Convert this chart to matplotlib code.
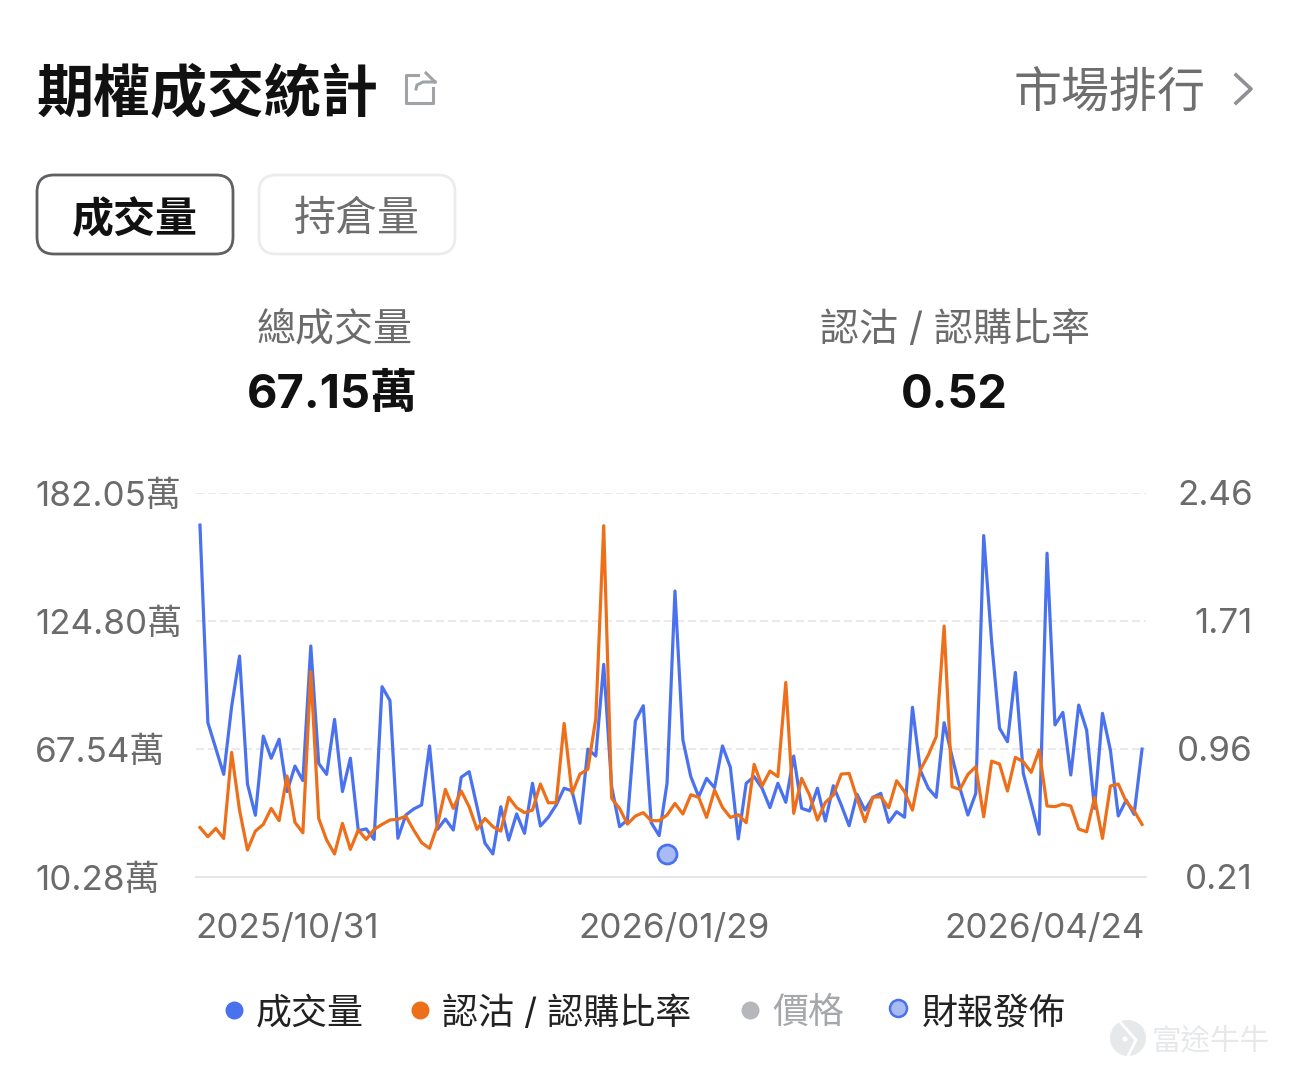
import matplotlib
matplotlib.use("Agg")
import matplotlib.pyplot as plt
from matplotlib.patches import FancyBboxPatch, Circle
from matplotlib.transforms import ScaledTranslation

# Data
volume = [167.7, 79.3, 67.8, 56.2, 86.5, 109.1, 51.9, 37.9, 73.3, 63.4,
          71.9, 48.5, 59.9, 53.4, 113.6, 61.1, 56.2, 80.8, 48.5, 63.4,
          31.0, 31.8, 27.1, 95.4, 89.2, 27.6, 38.0, 40.7, 42.5, 68.9,
          31.6, 36.2, 31.3, 54.9, 57.4, 41.7, 25.4, 20.6, 41.7, 26.8,
          38.5, 29.8, 52.2, 33.1, 37.0, 42.5, 50.0, 48.8, 34.3, 67.5,
          64.4, 105.4, 50.7, 32.8, 35.8, 80.1, 86.9, 34.6, 28.8, 52.2,
          138.2, 71.6, 55.2, 46.2, 54.4, 50.2, 68.9, 59.3, 27.3, 52.2,
          55.2, 50.0, 41.3, 52.2, 43.7, 64.4, 41.0, 39.8, 50.0, 35.3,
          51.1, 42.5, 33.2, 47.3, 40.2, 45.9, 47.7, 34.7, 39.5, 37.0,
          86.2, 57.9, 50.0, 45.9, 79.3, 64.1, 50.0, 38.0, 47.7, 163.0,
          115.6, 76.8, 70.8, 101.8, 56.7, 43.2, 29.4, 155.1, 78.3, 83.9,
          55.9, 87.2, 76.0, 41.0, 83.5, 67.1, 37.6, 44.7, 38.3, 67.5]
ratio = [0.500, 0.446, 0.495, 0.436, 0.940, 0.602, 0.368, 0.479, 0.518, 0.612,
         0.540, 0.802, 0.530, 0.469, 1.413, 0.553, 0.427, 0.345, 0.524, 0.372,
         0.485, 0.430, 0.489, 0.518, 0.544, 0.548, 0.567, 0.485, 0.411, 0.378,
         0.514, 0.723, 0.612, 0.714, 0.622, 0.489, 0.553, 0.505, 0.479, 0.677,
         0.616, 0.587, 0.602, 0.755, 0.645, 0.645, 1.110, 0.700, 0.813, 0.841,
         1.139, 2.268, 0.671, 0.612, 0.520, 0.567, 0.587, 0.540, 0.540, 0.573,
         0.641, 0.579, 0.692, 0.677, 0.559, 0.719, 0.618, 0.559, 0.575, 0.528,
         0.870, 0.743, 0.831, 0.798, 1.350, 0.583, 0.788, 0.690, 0.544, 0.647,
         0.690, 0.813, 0.817, 0.671, 0.534, 0.677, 0.680, 0.616, 0.774, 0.710,
         0.602, 0.837, 0.925, 1.032, 1.680, 0.739, 0.723, 0.811, 0.856, 0.563,
         0.889, 0.872, 0.714, 0.911, 0.885, 0.823, 0.954, 0.626, 0.622, 0.637,
         0.626, 0.491, 0.475, 0.677, 0.436, 0.743, 0.755, 0.651, 0.598, 0.518]
earnings_index = [59]
earnings_volume = [20.6]

left_values = [10.28, 67.54, 124.80, 182.05]
left_labels = ["10.28萬", "67.54萬", "124.80萬", "182.05萬"]
right_values = [0.21, 0.96, 1.71, 2.46]
right_labels = ["0.21", "0.96", "1.71", "2.46"]
date_index = [0, 60, 119]
date_labels = ["2025/10/31", "2026/01/29", "2026/04/24"]

BLUE = "#4a72ee"
ORANGE = "#ee6f1a"
GREY = "#6b6b6b"
plt.rcParams["font.family"] = ["Inter", "Noto Sans CJK TC", "DejaVu Sans"]

W, H = 1290, 1075
PX = 72 / 100  # points per pixel at dpi 100

fig = plt.figure(figsize=(W / 100, H / 100), dpi=100, facecolor="white")

# -----------------------------
# Page layer, pixel coordinates
# -----------------------------
page = fig.add_axes([0, 0, 1, 1])
page.set_xlim(0, W)
page.set_ylim(H, 0)
page.axis("off")


def label(x, y, s, size, color="#111111", ha="left", weight="normal"):
    page.text(x, y, s, fontsize=size * PX, color=color, ha=ha, va="center_baseline",
              fontweight=weight)


label(37, 90, "期權成交統計", 57, weight="bold")
label(1014, 90, "市場排行", 48, color="#6e6e6e")

# share icon
icon = "#a0a3a6"
page.plot([418, 406, 406, 433, 433], [75, 75, 103, 103, 88], color=icon, lw=2.2, solid_joinstyle="round")
page.plot([416, 417, 423, 435], [89, 85, 82, 82], color=icon, lw=2.2)
page.plot([426, 435], [73, 82], color=icon, lw=2.2)
# chevron
page.plot([1236, 1251, 1236], [75, 89, 103], color="#8e9093", lw=2.6)

# tabs
page.add_patch(FancyBboxPatch((37, 175), 196, 79, boxstyle="round,pad=0,rounding_size=17",
                              fc="white", ec="#5f6063", lw=2.0))
page.add_patch(FancyBboxPatch((259, 175), 196, 79, boxstyle="round,pad=0,rounding_size=17",
                              fc="white", ec="#ececee", lw=2.0))
label(135, 216, "成交量", 42, ha="center", weight="bold")
label(357, 216, "持倉量", 42, color="#6e6e6e", ha="center")

# summary numbers
label(335, 326, "總成交量", 39, color=GREY, ha="center")
label(332, 391, "67.15萬", 47, ha="center", weight="bold")
label(955, 326, "認沽 / 認購比率", 39, color=GREY, ha="center")
label(954, 391, "0.52", 47, ha="center", weight="bold")

# legend
page.scatter([234], [1010], s=(18 * PX) ** 2, color=BLUE, linewidths=0)
label(256, 1010, "成交量", 36, color="#222222")
page.scatter([420], [1010], s=(18 * PX) ** 2, color=ORANGE, linewidths=0)
label(442, 1010, "認沽 / 認購比率", 36, color="#222222")
page.scatter([750], [1010], s=(18 * PX) ** 2, color="#b5b7ba", linewidths=0)
label(772, 1010, "價格", 36, color="#a5a7aa")
page.scatter([898], [1008], s=(17 * PX) ** 2, color="#a9bbf3", edgecolors=BLUE, linewidths=1.8)
label(922, 1010, "財報發佈", 36, color="#222222")

# watermark
page.add_patch(Circle((1128, 1038), 18, fc="#e6e8ea", ec="none"))
page.plot([1121, 1136, 1128], [1023, 1040, 1056], color="white", lw=2.0)
page.add_patch(Circle((1125, 1039), 2.5, fc="white", ec="none"))
label(1152, 1039, "富途牛牛", 29.5, color="#e6e8ea")

# -----------------------------
# Chart
# -----------------------------
ax = fig.add_axes([196 / W, 1 - 877 / H, 950 / W, 384 / H])
ax.patch.set_alpha(0)
ax.plot(range(len(volume)), volume, color=BLUE, lw=2.3, solid_joinstyle="round", zorder=3)
ax.scatter(earnings_index, earnings_volume, s=(19 * PX) ** 2, color="#a9bbf3",
           edgecolors=BLUE, linewidths=2.0, zorder=5, clip_on=False)
ax.set_xlim(-0.5, 119.5)
ax.set_ylim(left_values[0], left_values[-1])
ax.set_yticks(left_values)
ax.set_yticklabels(left_labels)
ax.set_xticks(date_index)
ax.set_xticklabels(date_labels)
ax.grid(axis="y", color="#e6e6e8", lw=1.2, dashes=(4.8, 2.4))
ax.set_axisbelow(True)

ax2 = ax.twinx()
ax2.plot(range(len(ratio)), ratio, color=ORANGE, lw=2.3, solid_joinstyle="round", zorder=4)
ax2.set_ylim(right_values[0], right_values[-1])
ax2.set_yticks(right_values)
ax2.set_yticklabels(right_labels)

for a in [ax, ax2]:
    for side in ["top", "left", "right"]:
        a.spines[side].set_visible(False)
    a.spines["bottom"].set_color("#e6e6e8")
    a.spines["bottom"].set_linewidth(1.2)

ax.tick_params(axis="y", length=0, pad=161 * PX, labelsize=35 * PX, labelcolor=GREY)
ax.tick_params(axis="x", length=0, pad=36 * PX, labelsize=35 * PX, labelcolor=GREY)
ax2.tick_params(axis="y", length=0, pad=107 * PX, labelsize=35 * PX, labelcolor=GREY)
for t in ax.get_yticklabels():
    t.set_ha("left")
for t in ax2.get_yticklabels():
    t.set_ha("right")
xt = ax.get_xticklabels()
xt[0].set_ha("left")
xt[2].set_ha("right")
# first and last dates sit a little past their points
xt[0].set_transform(xt[0].get_transform() + ScaledTranslation(-5 * PX / 72, 0, fig.dpi_scale_trans))
xt[1].set_transform(xt[1].get_transform() + ScaledTranslation(-1 * PX / 72, 0, fig.dpi_scale_trans))
xt[2].set_transform(xt[2].get_transform() + ScaledTranslation(3 * PX / 72, 0, fig.dpi_scale_trans))

fig.savefig("out.png", dpi=100)
